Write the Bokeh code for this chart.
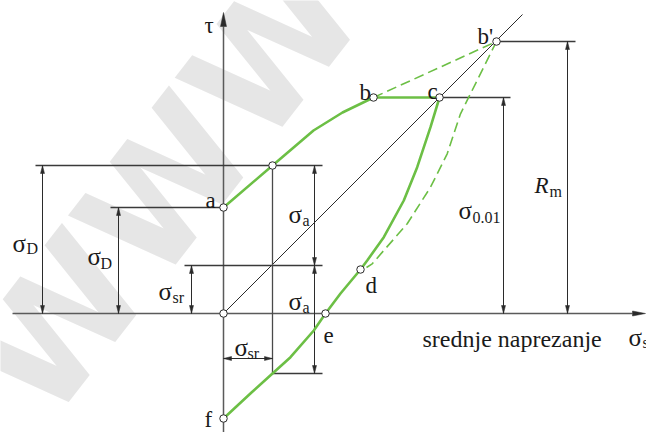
from bokeh.plotting import figure
from bokeh.models import Range1d
from bokeh.core.properties import value
from bokeh.embed import file_html
from bokeh.resources import INLINE

# Smith fatigue diagram: mean stress (sigma_sr) on x, stress on y (drawing units)
pt_a = (0, 106)
pt_b = (150, 216)
pt_c = (216, 216)
pt_bp = (273, 272)
pt_d = (137, 44)
pt_e = (102, 0)
pt_f = (0, -105)
pt_o = (0, 0)

# construction levels
sig_sr = 49          # chosen mean stress
upper_lvl = 148      # sigma_sr + sigma_a
mid_lvl = 48         # sigma_sr level
lower_lvl = -60      # sigma_sr - sigma_a

# upper limit curve a -> b
upper_x = [0, 49, 90, 119, 150]
upper_y = [106, 148, 183, 201, 216]
# lower limit curve c -> d
cd_x = [216, 207, 193.7, 180.3, 160.3, 143.7, 137]
cd_y = [216, 186.3, 146.3, 113, 76.3, 53, 44]
# lower limit curve d -> e -> f
df_x = [137, 117, 102, 90.3, 67, 49, 28, 0]
df_y = [44, 20, 0, -17, -43.7, -60, -79, -105]
# ultimate-strength (dashed) branch b' -> d
bpd_x = [273, 237, 223.7, 207, 183.7, 160.3, 148.7, 143]
bpd_y = [272, 199.7, 159.7, 126.3, 89.7, 63, 49.7, 46]

GREEN = "#6cbf45"
DARK = "#2b2b2b"
GREY = "#5a5a5a"
INK = "#1a1a1a"

p = figure(width=646, height=432, output_backend="svg", toolbar_location=None,
           x_range=Range1d(-223, 423), y_range=Range1d(-119, 313),
           x_axis_type=None, y_axis_type=None, min_border=0)
p.grid.visible = False
p.outline_line_color = None
p.background_fill_color = "white"
p.border_fill_color = "white"

# faint background lettering
p.text(x=[-218], y=[-80], text=["WWW"], angle=0.91,
       text_font=value("DejaVu Sans"), text_font_style="bold",
       text_font_size="158px", text_color="#e6e6e6",
       text_baseline="alphabetic", text_align="left")

# coordinate axes
p.line([0, 0], [-119, 287], line_color=GREY, line_width=1.5)
p.line([-211, 409], [0, 0], line_color=GREY, line_width=1.5)


def head(tip, direction, length=8, half=2):
    tx, ty = tip
    dx, dy = direction
    bx, by = tx - dx * length, ty - dy * length
    nx, ny = -dy, dx
    return [tx, bx + nx * half, bx - nx * half], [ty, by + ny * half, by - ny * half]


ax_heads = [head((0, 301), (0, 1), 14, 3), head((422, 0), (1, 0), 13, 2.5)]
p.patches([h[0] for h in ax_heads], [h[1] for h in ax_heads],
          fill_color=DARK, line_color=DARK, line_width=0.5)

# 45-degree line
p.line([pt_o[0], 299], [pt_o[1], 299], line_color=DARK, line_width=1)

# construction lines
hlines = [
    (-188, 99, upper_lvl),
    (-113, pt_a[0], pt_a[1]),
    (-39, 99, mid_lvl),
    (sig_sr, 99, lower_lvl),
    (pt_c[0], 287, pt_c[1]),
    (pt_bp[0], 352, pt_bp[1]),
]
p.multi_line([[h[0], h[1]] for h in hlines], [[h[2], h[2]] for h in hlines],
             line_color="#3a3a3a", line_width=1.3)
p.line([sig_sr, sig_sr], [lower_lvl, upper_lvl], line_color="#4a4a4a", line_width=1.3)

# dimension lines: (x, y_from, y_to)
vdims = [
    (-181, 0, upper_lvl),
    (-105, 0, pt_a[1]),
    (-32, 0, mid_lvl),
    (91, mid_lvl, upper_lvl),
    (91, lower_lvl, mid_lvl),
    (280, 0, pt_c[1]),
    (344, 0, pt_bp[1]),
]
hdims = [(-45, 0, sig_sr)]  # (y, x_from, x_to)

p.multi_line([[d[0], d[0]] for d in vdims] + [[d[1], d[2]] for d in hdims],
             [[d[1], d[2]] for d in vdims] + [[d[0], d[0]] for d in hdims],
             line_color=DARK, line_width=1)
heads = []
for x, y0, y1 in vdims:
    heads.append(head((x, y1), (0, 1)))
    heads.append(head((x, y0), (0, -1)))
for y, x0, x1 in hdims:
    heads.append(head((x1, y), (1, 0)))
    heads.append(head((x0, y), (-1, 0)))
p.patches([h[0] for h in heads], [h[1] for h in heads],
          fill_color=DARK, line_color=DARK, line_width=0.5)

# limit curves
p.line(bpd_x, bpd_y, line_color=GREEN, line_width=1.6, line_dash="10 5")
p.line([pt_b[0], pt_bp[0]], [pt_b[1], pt_bp[1]], line_color=GREEN, line_width=1.6, line_dash="10 5")
p.line(upper_x, upper_y, line_color=GREEN, line_width=2.6)
p.line([pt_b[0], pt_c[0]], [pt_b[1], pt_c[1]], line_color=GREEN, line_width=2.6)
p.line(cd_x, cd_y, line_color=GREEN, line_width=2.6)
p.line(df_x, df_y, line_color=GREEN, line_width=2.6)

# marked points
pts = [pt_a, (sig_sr, upper_lvl), pt_b, pt_c, pt_bp, pt_d, pt_e, pt_o, pt_f]
p.scatter([q[0] for q in pts], [q[1] for q in pts], size=7.5,
          fill_color="white", line_color=DARK, line_width=1)

SERIF = value("Liberation Serif")

# point letters
let_txt = ["τ", "a", "b", "c", "b'", "d", "e", "f"]
let_x = [-19, -18, 136, 204, 254, 142, 100, -19]
let_y = [288, 113, 221, 222, 277, 28, -22, -106]
p.text(let_x, let_y, text=let_txt, text_font=SERIF, text_font_size="23px",
       text_color=INK, text_baseline="alphabetic", text_align="left")

# stress symbols with subscripts
sym_txt = ["σ", "σ", "σ", "σ", "σ", "σ", "σ", "σ"]
sym_x = [-211, -136, -65, 65, 65, 11, 235, 405]
sym_y = [70, 57, 22, 99, 12, -34, 103, -24]
sub_txt = ["D", "D", "sr", "a", "a", "sr", "0.01", "sr"]
sub_x = [-197, -123, -51, 79, 79, 24, 249, 419]
sub_y = [65, 50, 16, 93, 6, -40, 96, -29]
p.text(sym_x, sym_y, text=sym_txt, text_font=SERIF, text_font_size="25px",
       text_color=INK, text_baseline="alphabetic", text_align="left")
p.text(sub_x, sub_y, text=sub_txt, text_font=SERIF, text_font_size="16px",
       text_color=INK, text_baseline="alphabetic", text_align="left")

# tensile strength label
p.text([311], [128], text=["R"], text_font=SERIF, text_font_style="italic",
       text_font_size="23px", text_color=INK, text_baseline="alphabetic")
p.text([326], [122], text=["m"], text_font=SERIF, text_font_size="16px",
       text_color=INK, text_baseline="alphabetic")

# axis caption
p.text([199], [-25], text=["srednje naprezanje"], text_font=SERIF,
       text_font_size="24px", text_color=INK, text_baseline="alphabetic")

open("out.html", "w").write(file_html(p, INLINE))
